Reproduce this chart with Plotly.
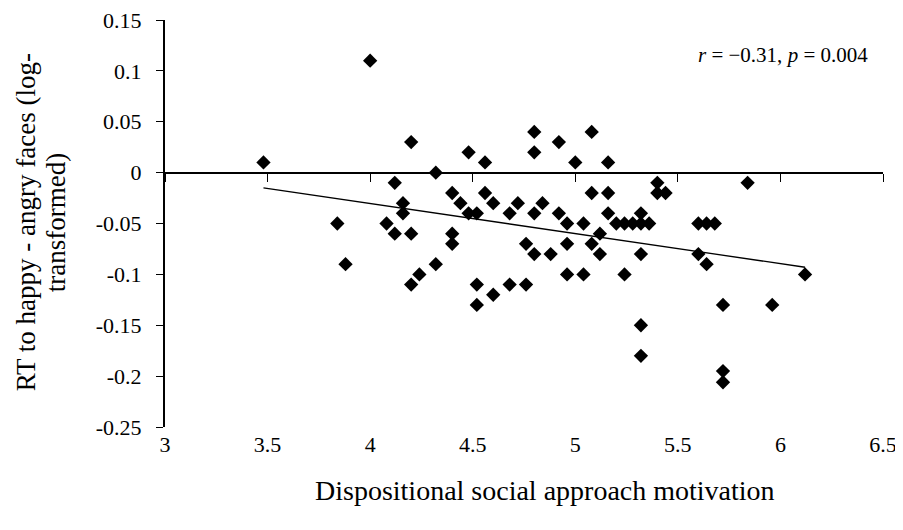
import plotly.graph_objects as go

# Data
approach = [3.48, 3.84, 3.88, 4.00, 4.08, 4.12, 4.12, 4.16, 4.16, 4.20,
            4.20, 4.20, 4.24, 4.32, 4.32, 4.40, 4.40, 4.40, 4.44, 4.48,
            4.48, 4.52, 4.52, 4.52, 4.56, 4.56, 4.60, 4.60, 4.68, 4.68,
            4.72, 4.76, 4.76, 4.80, 4.80, 4.80, 4.80, 4.84, 4.88, 4.92,
            4.92, 4.96, 4.96, 4.96, 5.00, 5.04, 5.04, 5.08, 5.08, 5.08,
            5.12, 5.12, 5.16, 5.16, 5.16, 5.20, 5.24, 5.24, 5.28, 5.32,
            5.32, 5.32, 5.32, 5.32, 5.36, 5.40, 5.40, 5.44, 5.60, 5.60,
            5.64, 5.64, 5.68, 5.72, 5.72, 5.72, 5.84, 5.96, 6.12]
rt_diff = [0.01, -0.05, -0.09, 0.11, -0.05, -0.01, -0.06, -0.03, -0.04, 0.03,
           -0.06, -0.11, -0.10, 0.00, -0.09, -0.02, -0.06, -0.07, -0.03, 0.02,
           -0.04, -0.04, -0.11, -0.13, 0.01, -0.02, -0.03, -0.12, -0.04, -0.11,
           -0.03, -0.07, -0.11, 0.04, 0.02, -0.04, -0.08, -0.03, -0.08, 0.03,
           -0.04, -0.05, -0.07, -0.10, 0.01, -0.05, -0.10, 0.04, -0.02, -0.07,
           -0.06, -0.08, 0.01, -0.02, -0.04, -0.05, -0.05, -0.10, -0.05, -0.04,
           -0.05, -0.08, -0.15, -0.18, -0.05, -0.01, -0.02, -0.02, -0.05, -0.08,
           -0.05, -0.09, -0.05, -0.13, -0.195, -0.206, -0.01, -0.13, -0.10]

# Linear trend line as drawn in the reference (end points)
trend_x = [3.48, 6.12]
trend_y = [-0.015, -0.093]

x_ticks = [3, 3.5, 4, 4.5, 5, 5.5, 6, 6.5]
x_tick_text = ["3", "3.5", "4", "4.5", "5", "5.5", "6", "6.5"]
y_ticks = [0.15, 0.1, 0.05, 0, -0.05, -0.1, -0.15, -0.2, -0.25]
y_tick_text = ["0.15", "0.1", "0.05", "0", "-0.05", "-0.1", "-0.15", "-0.2", "-0.25"]

x_title = "Dispositional social approach motivation"
y_title_lines = ["RT to happy - angry faces (log-", "transformed)"]
stats_text = "<i>r</i> = \u22120.31, <i>p</i> = 0.004"

FONT = "Liberation Serif"
x_range = [3, 6.5]
y_range = [-0.25, 0.15]
zero_pos = (0 - y_range[0]) / (y_range[1] - y_range[0])

fig = go.Figure()
fig.add_trace(go.Scatter(x=trend_x, y=trend_y, mode="lines",
                         line=dict(color="black", width=1.3),
                         xaxis="x2", yaxis="y", hoverinfo="skip"))
fig.add_trace(go.Scatter(x=approach, y=rt_diff, mode="markers",
                         marker=dict(symbol="diamond", size=11, color="black"),
                         xaxis="x", yaxis="y"))

fig.update_layout(
    width=895, height=514,
    margin=dict(l=157, r=20, t=12, b=95, autoexpand=False),
    paper_bgcolor="white", plot_bgcolor="white",
    showlegend=False,
    font=dict(family=FONT, size=22, color="black"),
    xaxis=dict(range=x_range, tickvals=x_ticks, ticktext=x_tick_text,
               showline=False, showgrid=False, zeroline=False, ticks="",
               ticklabeloverflow="allow", automargin=False,
               tickfont=dict(family=FONT, size=22), ticklabelstandoff=2),
    xaxis2=dict(range=x_range, overlaying="x", anchor="free", position=zero_pos,
                side="bottom", tickvals=x_ticks, showticklabels=False,
                showline=True, linecolor="black", linewidth=2, automargin=False,
                ticks="outside", ticklen=8, tickwidth=1.2, tickcolor="black",
                showgrid=False, zeroline=False),
    yaxis=dict(range=y_range, tickvals=y_ticks, ticktext=y_tick_text,
               showline=True, linecolor="black", linewidth=2,
               ticks="outside", ticklen=7, tickwidth=1.2, tickcolor="black",
               showgrid=False, zeroline=False, ticklabelstandoff=10,
               ticklabeloverflow="allow", automargin=False,
               tickfont=dict(family=FONT, size=22)),
    annotations=[
        dict(text=stats_text, xref="paper", yref="paper", x=0.982, y=0.914,
             xanchor="right", yanchor="middle", showarrow=False,
             font=dict(family=FONT, size=21)),
        dict(text=x_title, xref="paper", yref="paper", x=0.529, y=-0.155,
             xanchor="center", yanchor="middle", showarrow=False,
             font=dict(family=FONT, size=28)),
        dict(text=y_title_lines[0], xref="paper", yref="paper", x=-0.1936, y=0.503,
             xanchor="center", yanchor="middle", showarrow=False, textangle=-90,
             font=dict(family=FONT, size=27)),
        dict(text=y_title_lines[1], xref="paper", yref="paper", x=-0.152, y=0.503,
             xanchor="center", yanchor="middle", showarrow=False, textangle=-90,
             font=dict(family=FONT, size=27)),
    ],
)

fig.write_html("out.html")
